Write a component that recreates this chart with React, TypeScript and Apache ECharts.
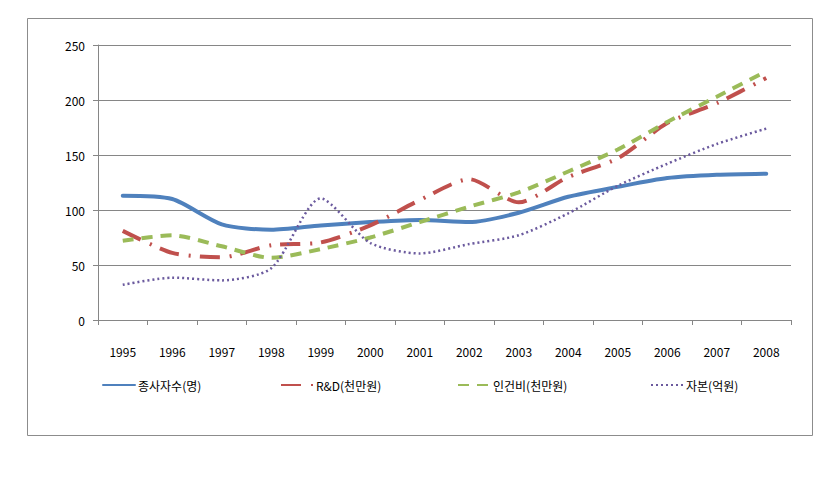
import React, { useEffect, useRef } from "react";
import * as echarts from "echarts";

const years = ["1995","1996","1997","1998","1999","2000","2001","2002","2003","2004","2005","2006","2007","2008"];
const employees = [113, 110, 87, 82, 86, 89, 91, 89, 97.5, 112, 121, 129, 132, 133];
const rnd = [81, 61, 57, 68, 70.5, 86, 109, 128, 107, 130, 147, 179, 197, 220];
const labor = [72, 77, 67, 56.5, 64.5, 75, 89, 103, 116, 135, 155, 180, 203, 226];
const capital = [32, 38.5, 36, 47, 110.5, 70, 60.5, 69, 77, 97, 122, 142, 160, 174];
const yTicks = { min: 0, max: 250, interval: 50 };

const FONT = "'Noto Sans CJK KR', 'Noto Sans', sans-serif";

export default function App() {
  const ref = useRef<HTMLDivElement>(null);
  useEffect(() => {
    if (!ref.current) return;
    const chart = echarts.init(ref.current, undefined, { renderer: "svg" });
    const names = ["종사자수(명)", "R&D(천만원)", "인건비(천만원)", "자본(억원)"];
    const legendLefts = [102, 280, 457, 650];
    const mk = (name: string, data: number[], color: string, width: number, type: any, cap: any = "butt") => ({
      name,
      type: "line",
      data,
      smooth: 0.25,
      symbol: "none",
      lineStyle: { color, width, type, cap },
      itemStyle: { color },
    });
    chart.setOption({
      animation: false,
      backgroundColor: "#ffffff",
      textStyle: { fontFamily: FONT },
      graphic: [
        {
          type: "rect",
          shape: { x: 27.5, y: 18.5, width: 785, height: 417 },
          style: { fill: "none", stroke: "#8c8c8c", lineWidth: 1 },
          silent: true,
        },
      ],
      legend: names.map((n, i) => ({
        data: [n],
        left: legendLefts[i],
        top: 379,
        padding: 0,
        itemWidth: 32,
        itemHeight: 14,
        itemGap: 0,
        itemStyle: { opacity: 0 },
        textStyle: { fontFamily: FONT, fontSize: 12, color: "#000", padding: [0, 0, 0, -2] },
        selectedMode: false,
      })),
      grid: { left: 98, right: 39, top: 45, bottom: 157, containLabel: false },
      xAxis: {
        type: "category",
        data: years,
        boundaryGap: true,
        axisLine: { lineStyle: { color: "#868686", width: 1 } },
        axisTick: { show: true, length: 5, lineStyle: { color: "#868686" } },
        axisLabel: { margin: 25, fontSize: 12, color: "#000", fontFamily: FONT, interval: 0 },
      },
      yAxis: {
        type: "value",
        min: yTicks.min,
        max: yTicks.max,
        interval: yTicks.interval,
        axisLine: { show: true, lineStyle: { color: "#868686", width: 1 } },
        axisTick: { show: true, length: 5, lineStyle: { color: "#868686" } },
        axisLabel: { margin: 13, fontSize: 12, color: "#000", fontFamily: FONT },
        splitLine: { show: true, lineStyle: { color: "#868686", width: 1 } },
      },
      series: [
        mk(names[0], employees, "#4F81BD", 4, "solid", "round"),
        mk(names[1], rnd, "#C0504D", 4, [20, 10, 2, 9]),
        mk(names[2], labor, "#9BBB59", 4, [11, 8]),
        mk(names[3], capital, "#6B5A9E", 2.5, [2, 3]),
      ],
    });
    return () => chart.dispose();
  }, []);
  return (
    <div
      ref={ref}
      style={{ position: "fixed", left: 0, top: 0, width: 830, height: 477, background: "#fff" }}
    />
  );
}
